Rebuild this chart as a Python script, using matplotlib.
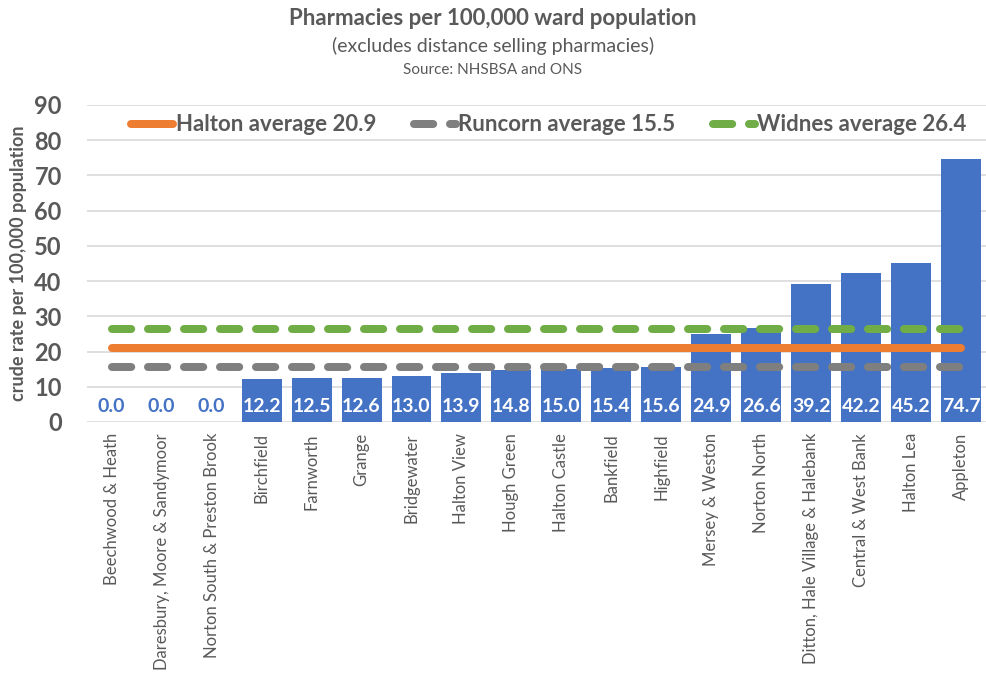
import numpy as np
import matplotlib
matplotlib.use("Agg")
import matplotlib.pyplot as plt

# ward data, sorted ascending
wards = ["Beechwood & Heath", "Daresbury, Moore & Sandymoor", "Norton South & Preston Brook",
         "Birchfield", "Farnworth", "Grange", "Bridgewater", "Halton View", "Hough Green",
         "Halton Castle", "Bankfield", "Highfield", "Mersey & Weston", "Norton North",
         "Ditton, Hale Village & Halebank", "Central & West Bank", "Halton Lea", "Appleton"]
rates = [0.0, 0.0, 0.0, 12.2, 12.5, 12.6, 13.0, 13.9, 14.8, 15.0, 15.4, 15.6,
         24.9, 26.6, 39.2, 42.2, 45.2, 74.7]
halton_avg = 20.9
runcorn_avg = 15.5
widnes_avg = 26.4

BLUE = "#4472C4"
ORANGE = "#ED7D31"
GREY = "#7F7F7F"
GREEN = "#70AD47"
TXT = "#595959"

plt.rcParams['font.family'] = ['Lato', 'DejaVu Sans']

fig = plt.figure(figsize=(9.86, 6.79), dpi=100)
ax = fig.add_axes([0.088, 0.3785, 0.912, 0.4669])

x = np.arange(len(wards))
ax.bar(x, rates, width=0.8, color=BLUE, zorder=2)

lw = 8 * 72 / 100.
ax.plot(x, [runcorn_avg] * len(x), color=GREY, lw=lw, dashes=(2.4, 2.1),
        dash_capstyle='round', solid_capstyle='round', zorder=3,
        label="Runcorn average %.1f" % runcorn_avg)
ax.plot(x, [widnes_avg] * len(x), color=GREEN, lw=lw, dashes=(2.4, 2.1),
        dash_capstyle='round', solid_capstyle='round', zorder=3,
        label="Widnes average %.1f" % widnes_avg)
ax.plot(x, [halton_avg] * len(x), color=ORANGE, lw=lw, solid_capstyle='round',
        zorder=4, label="Halton average %.1f" % halton_avg)

# data labels at inside base
for i, v in enumerate(rates):
    col = "white" if v > 0 else BLUE
    ax.annotate("%.1f" % v, (i, 0), xytext=(0, 5), textcoords="offset points",
                ha="center", va="bottom", color=col, fontsize=14, fontweight="bold", zorder=5)

ax.set_xlim(-0.5, len(wards) - 0.5)
ax.set_ylim(0, 90)
ax.set_yticks(range(0, 91, 10))
ax.yaxis.grid(True, color="#D9D9D9", lw=1.2, zorder=0)
ax.set_axisbelow(True)
for s in ax.spines.values():
    s.set_visible(False)
ax.tick_params(axis="both", length=0)
ax.tick_params(axis="y", labelsize=17, labelcolor=TXT, pad=18)
for t in ax.get_yticklabels():
    t.set_fontweight("bold")
ax.set_xticks(x)
ax.set_xticklabels(wards, rotation=90, fontsize=12, color=TXT)
ax.tick_params(axis="x", pad=8)
ax.set_ylabel("crude rate per 100,000 population", fontsize=13, fontweight="bold",
              color=TXT, labelpad=5)

h, l = ax.get_legend_handles_labels()
order = [2, 0, 1]
leg = ax.legend([h[i] for i in order], [l[i] for i in order], loc="center",
                bbox_to_anchor=(0.514, 0.937), ncol=3, frameon=False,
                fontsize=16, handlelength=1.9, handletextpad=0.1, columnspacing=1.7)
for t in leg.get_texts():
    t.set_fontweight("bold")
    t.set_color(TXT)

fig.text(0.5, 0.973, "Pharmacies per 100,000 ward population", ha="center", va="center",
         fontsize=16, fontweight="bold", color=TXT)
fig.text(0.5, 0.932, "(excludes distance selling pharmacies)", ha="center", va="center",
         fontsize=14, color=TXT)
fig.text(0.5, 0.897, "Source: NHSBSA and ONS", ha="center", va="center",
         fontsize=11, color=TXT)

fig.savefig("out.png", dpi=100)
